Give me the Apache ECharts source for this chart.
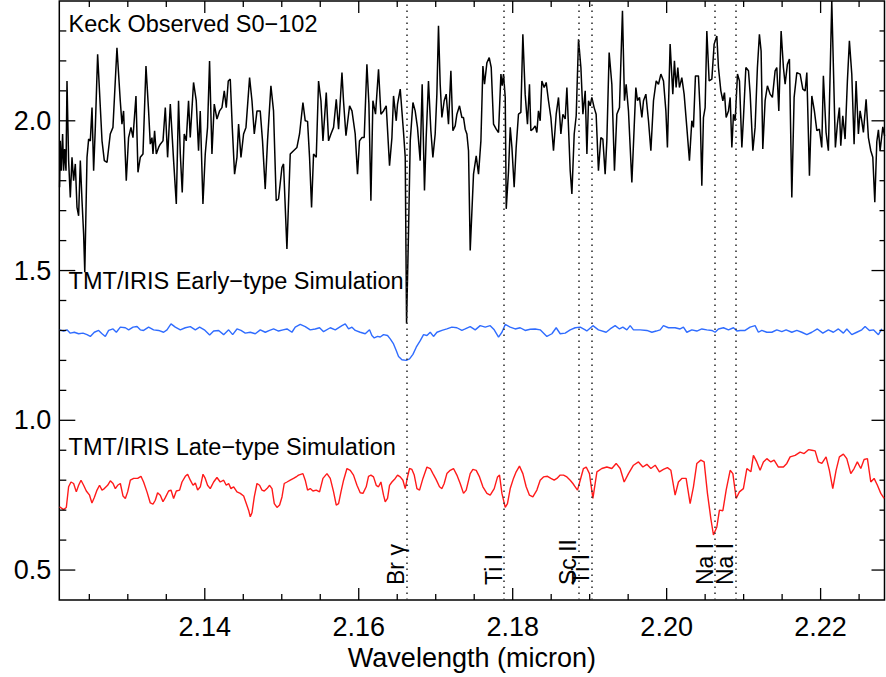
<!DOCTYPE html>
<html>
<head>
<meta charset="utf-8">
<script src="https://cdn.jsdelivr.net/npm/echarts@6/dist/echarts.min.js"></script>
<style>
  html, body { margin: 0; padding: 0; background: #fff; }
  #chart { width: 886px; height: 677px; }
</style>
</head>
<body>
<div id="chart"></div>
<script>
// Keck observed spectrum of S0-102 (wavelength in micron, offset flux)
const keckWave = [
  2.12114,2.12123,2.12136,2.12153,2.12166,2.12179,2.12197,2.12210,2.12231,2.12253,
  2.12275,2.12296,2.12318,2.12340,2.12361,2.12383,2.12405,2.12426,2.12441,2.12470,
  2.12491,2.12513,2.12535,2.12556,2.12578,2.12608,2.12665,2.12695,2.12730,2.12772,
  2.12807,2.12859,2.12902,2.12924,2.12945,2.12980,2.13010,2.13041,2.13067,2.13106,
  2.13132,2.13162,2.13197,2.13236,2.13270,2.13292,2.13314,2.13327,2.13348,2.13370,
  2.13400,2.13422,2.13457,2.13487,2.13517,2.13552,2.13595,2.13630,2.13659,2.13682,
  2.13707,2.13733,2.13759,2.13789,2.13811,2.13854,2.13889,2.13919,2.13941,2.13976,
  2.14006,2.14036,2.14062,2.14093,2.14123,2.14158,2.14192,2.14223,2.14253,2.14279,
  2.14305,2.14331,2.14357,2.14387,2.14418,2.14439,2.14470,2.14504,2.14535,2.14582,
  2.14613,2.14643,2.14678,2.14720,2.14750,2.14785,2.14815,2.14859,2.14893,2.14928,
  2.14958,2.15002,2.15023,2.15067,2.15110,2.15153,2.15197,2.15231,2.15275,2.15305,
  2.15335,2.15361,2.15387,2.15413,2.15448,2.15478,2.15509,2.15535,2.15578,2.15608,
  2.15639,2.15673,2.15708,2.15738,2.15782,2.15802,2.15834,2.15881,2.15912,2.15954,
  2.15984,2.16010,2.16041,2.16071,2.16106,2.16132,2.16158,2.16184,2.16218,2.16257,
  2.16288,2.16322,2.16357,2.16400,2.16431,2.16452,2.16487,2.16504,2.16539,2.16582,
  2.16604,2.16621,2.16647,2.16669,2.16704,2.16733,2.16763,2.16798,2.16824,2.16854,
  2.16876,2.16906,2.16937,2.16963,2.16993,2.17015,2.17036,2.17058,2.17080,2.17110,
  2.17136,2.17166,2.17197,2.17223,2.17253,2.17275,2.17309,2.17340,2.17361,2.17383,
  2.17405,2.17426,2.17448,2.17491,2.17526,2.17556,2.17587,2.17613,2.17634,2.17665,
  2.17695,2.17721,2.17751,2.17786,2.17816,2.17847,2.17864,2.17881,2.17903,2.17916,
  2.17946,2.17968,2.17990,2.18019,2.18045,2.18075,2.18106,2.18132,2.18162,2.18192,
  2.18218,2.18236,2.18262,2.18292,2.18314,2.18335,2.18357,2.18379,2.18409,2.18435,
  2.18465,2.18496,2.18530,2.18565,2.18595,2.18626,2.18652,2.18682,2.18704,2.18725,
  2.18747,2.18769,2.18799,2.18825,2.18855,2.18886,2.18912,2.18942,2.18964,2.18985,
  2.19007,2.19028,2.19058,2.19084,2.19114,2.19145,2.19171,2.19201,2.19223,2.19253,
  2.19288,2.19322,2.19353,2.19387,2.19426,2.19452,2.19474,2.19504,2.19548,2.19578,
  2.19600,2.19621,2.19647,2.19678,2.19699,2.19730,2.19764,2.19795,2.19829,2.19864,
  2.19894,2.19925,2.19959,2.19990,2.20010,2.20045,2.20080,2.20101,2.20123,2.20145,
  2.20166,2.20197,2.20227,2.20262,2.20296,2.20327,2.20348,2.20374,2.20413,2.20435,
  2.20457,2.20478,2.20500,2.20522,2.20552,2.20587,2.20617,2.20652,2.20673,2.20704,
  2.20730,2.20751,2.20773,2.20803,2.20825,2.20847,2.20868,2.20890,2.20903,2.20920,
  2.20946,2.20977,2.20998,2.21029,2.21063,2.21085,2.21120,2.21149,2.21179,2.21205,
  2.21227,2.21249,2.21279,2.21309,2.21344,2.21374,2.21409,2.21431,2.21457,2.21487,
  2.21517,2.21539,2.21569,2.21595,2.21626,2.21656,2.21691,2.21734,2.21769,2.21799,
  2.21821,2.21855,2.21886,2.21919,2.21951,2.21984,2.22015,2.22036,2.22071,2.22101,
  2.22145,2.22192,2.22218,2.22244,2.22262,2.22288,2.22318,2.22348,2.22374,2.22405,
  2.22435,2.22461,2.22491,2.22513,2.22535,2.22556,2.22591,2.22621,2.22652,2.22678,
  2.22704,2.22730,2.22751,2.22773,2.22808,2.22831
];
const keckFlux = [
  1.778,1.933,1.833,1.956,1.833,1.906,1.833,2.133,1.867,1.744,
  1.878,1.800,1.856,1.711,1.683,1.867,1.733,1.622,1.494,1.878,
  1.939,1.933,2.044,1.833,1.978,2.222,1.933,1.867,1.861,1.956,
  1.978,2.244,2.067,1.989,2.033,1.800,1.944,1.978,1.944,2.083,
  1.828,1.878,1.889,2.183,2.033,1.922,1.944,1.889,1.967,1.889,
  1.911,1.922,1.933,2.044,1.878,2.056,1.867,1.722,2.067,1.889,
  1.761,1.956,1.933,2.067,1.944,2.128,2.067,1.900,2.033,1.722,
  1.889,1.978,2.200,1.889,2.056,2.006,2.033,2.044,2.100,2.044,
  2.133,2.139,1.978,1.822,1.878,1.989,1.878,1.956,1.978,2.144,
  2.067,1.956,2.033,2.033,1.933,1.772,1.933,2.117,2.033,1.733,
  1.739,1.844,1.856,1.572,1.889,1.900,1.911,1.956,2.061,2.000,
  1.998,1.878,1.711,1.889,1.878,2.133,2.067,1.933,2.094,1.933,
  1.956,1.978,2.072,1.972,2.161,2.067,1.950,2.050,2.033,1.956,
  1.822,1.933,1.944,1.944,2.189,2.056,1.733,2.067,2.022,2.172,
  2.022,2.033,2.050,1.850,1.944,2.083,2.000,2.056,2.106,1.961,
  1.878,1.323,1.633,1.933,2.061,2.033,1.978,1.867,2.122,1.767,
  1.944,2.133,1.967,1.878,1.956,2.089,2.317,2.122,2.011,2.067,
  2.089,1.989,2.167,1.967,1.983,2.022,2.050,2.011,2.011,1.972,
  1.956,1.900,1.567,1.822,1.883,1.822,1.933,2.183,2.122,2.194,
  2.211,2.178,1.989,1.972,1.961,2.156,2.117,2.156,2.078,1.706,
  1.833,1.978,1.911,1.778,1.911,2.022,2.028,2.289,2.089,1.989,
  2.122,1.967,1.972,1.983,1.961,2.033,2.000,2.133,2.111,2.128,
  2.067,2.011,1.900,2.022,2.078,1.956,2.022,2.006,2.111,1.978,
  1.833,1.756,1.956,2.017,2.272,2.178,2.022,2.100,1.889,2.067,
  2.050,2.078,2.044,2.022,1.833,1.944,1.939,1.822,1.933,2.228,
  2.122,1.833,2.022,2.044,2.367,2.067,2.122,2.033,1.794,1.978,
  2.111,2.067,2.078,2.011,2.067,2.089,2.000,1.900,2.067,2.133,
  2.122,2.156,2.133,2.033,1.911,2.256,2.089,2.200,2.111,2.178,
  2.111,2.144,2.089,1.978,1.867,2.000,1.978,2.150,2.150,2.033,
  1.783,2.011,2.044,2.300,2.133,2.139,2.256,2.283,2.178,2.100,
  2.067,2.094,2.011,2.033,2.078,1.911,2.022,2.000,2.067,2.156,
  2.133,1.911,2.011,2.178,2.167,2.089,1.900,1.978,2.178,2.289,
  2.233,1.906,2.067,2.117,2.089,2.078,2.167,2.178,2.033,2.300,
  2.178,2.122,2.189,2.206,1.744,2.078,2.161,2.156,2.106,2.100,
  2.161,1.817,2.083,2.033,1.967,1.972,1.911,2.150,1.961,1.900,
  2.400,1.911,1.989,2.044,1.917,2.017,1.939,2.133,2.267,2.156,
  1.922,2.133,1.956,2.033,2.000,1.961,2.072,1.944,1.900,1.878,
  1.728,1.930,1.970,1.900,1.980,1.950
];

// TMT/IRIS early-type simulation
const earlyWave = [
  2.12114,2.12166,2.12210,2.12253,2.12305,2.12361,2.12418,2.12470,2.12513,2.12565,
  2.12621,2.12665,2.12708,2.12751,2.12808,2.12851,2.12903,2.12968,2.13011,2.13068,
  2.13120,2.13162,2.13205,2.13270,2.13335,2.13400,2.13465,2.13509,2.13561,2.13617,
  2.13682,2.13747,2.13812,2.13877,2.13933,2.13994,2.14063,2.14115,2.14180,2.14245,
  2.14310,2.14362,2.14418,2.14470,2.14526,2.14591,2.14656,2.14721,2.14786,2.14842,
  2.14894,2.14958,2.15016,2.15068,2.15132,2.15175,2.15240,2.15305,2.15370,2.15435,
  2.15491,2.15543,2.15630,2.15695,2.15782,2.15825,2.15868,2.15912,2.15955,2.16019,
  2.16084,2.16140,2.16171,2.16201,2.16244,2.16279,2.16322,2.16374,2.16409,2.16452,
  2.16487,2.16517,2.16561,2.16617,2.16660,2.16704,2.16747,2.16799,2.16842,2.16886,
  2.16929,2.16971,2.17016,2.17081,2.17145,2.17210,2.17275,2.17340,2.17383,2.17448,
  2.17513,2.17578,2.17643,2.17708,2.17760,2.17816,2.17860,2.17903,2.17968,2.18032,
  2.18097,2.18162,2.18227,2.18292,2.18357,2.18444,2.18509,2.18565,2.18617,2.18682,
  2.18747,2.18812,2.18877,2.18942,2.18963,2.19042,2.19114,2.19214,2.19266,2.19331,
  2.19387,2.19431,2.19483,2.19526,2.19569,2.19656,2.19743,2.19808,2.19864,2.19916,
  2.19958,2.20023,2.20110,2.20175,2.20218,2.20262,2.20327,2.20392,2.20457,2.20522,
  2.20587,2.20630,2.20673,2.20738,2.20803,2.20868,2.20912,2.20955,2.21019,2.21084,
  2.21149,2.21192,2.21236,2.21301,2.21366,2.21431,2.21496,2.21552,2.21626,2.21691,
  2.21756,2.21821,2.21886,2.21958,2.22029,2.22101,2.22166,2.22231,2.22296,2.22340,
  2.22405,2.22470,2.22535,2.22578,2.22634,2.22686,2.22751,2.22795
];
const earlyFlux = [
  1.302,1.298,1.302,1.291,1.294,1.289,1.291,1.286,1.280,1.294,
  1.300,1.289,1.280,1.300,1.305,1.294,1.311,1.309,1.302,1.311,
  1.313,1.302,1.300,1.311,1.302,1.300,1.294,1.302,1.322,1.311,
  1.302,1.309,1.313,1.302,1.311,1.302,1.285,1.298,1.300,1.286,
  1.302,1.286,1.305,1.300,1.291,1.294,1.289,1.302,1.294,1.300,
  1.305,1.298,1.302,1.305,1.294,1.311,1.320,1.313,1.302,1.305,
  1.309,1.296,1.309,1.302,1.316,1.322,1.305,1.311,1.300,1.294,
  1.289,1.302,1.283,1.275,1.280,1.278,1.286,1.283,1.272,1.255,
  1.233,1.213,1.202,1.200,1.205,1.220,1.244,1.266,1.286,1.283,
  1.294,1.280,1.294,1.300,1.305,1.311,1.309,1.300,1.305,1.313,
  1.302,1.316,1.311,1.316,1.302,1.278,1.294,1.320,1.311,1.305,
  1.309,1.300,1.304,1.305,1.302,1.280,1.289,1.309,1.289,1.291,
  1.302,1.309,1.311,1.302,1.298,1.316,1.302,1.294,1.305,1.316,
  1.305,1.311,1.302,1.316,1.302,1.302,1.300,1.294,1.298,1.302,
  1.316,1.309,1.309,1.305,1.311,1.294,1.302,1.298,1.305,1.302,
  1.300,1.294,1.305,1.309,1.302,1.309,1.298,1.300,1.300,1.311,
  1.316,1.294,1.300,1.294,1.294,1.302,1.296,1.302,1.294,1.300,
  1.294,1.286,1.294,1.305,1.291,1.302,1.294,1.305,1.291,1.305,
  1.286,1.294,1.302,1.313,1.300,1.302,1.286,1.305
];

// TMT/IRIS late-type simulation
const lateWave = [
  2.12114,2.12166,2.12201,2.12231,2.12262,2.12296,2.12331,2.12361,2.12392,2.12426,
  2.12461,2.12503,2.12534,2.12565,2.12600,2.12633,2.12665,2.12695,2.12738,2.12773,
  2.12808,2.12838,2.12868,2.12903,2.12938,2.12968,2.12998,2.13033,2.13076,2.13128,
  2.13171,2.13205,2.13249,2.13292,2.13327,2.13357,2.13387,2.13422,2.13457,2.13487,
  2.13530,2.13561,2.13595,2.13630,2.13673,2.13704,2.13747,2.13777,2.13812,2.13847,
  2.13877,2.13907,2.13942,2.13977,2.14006,2.14036,2.14071,2.14115,2.14158,2.14201,
  2.14245,2.14279,2.14310,2.14340,2.14375,2.14418,2.14461,2.14505,2.14539,2.14569,
  2.14591,2.14613,2.14643,2.14678,2.14712,2.14743,2.14773,2.14808,2.14842,2.14873,
  2.14903,2.14938,2.14972,2.15003,2.15032,2.15068,2.15110,2.15153,2.15197,2.15218,
  2.15275,2.15305,2.15335,2.15370,2.15405,2.15448,2.15491,2.15535,2.15587,2.15630,
  2.15673,2.15708,2.15738,2.15769,2.15803,2.15847,2.15890,2.15932,2.15977,2.16019,
  2.16055,2.16097,2.16127,2.16158,2.16192,2.16227,2.16257,2.16288,2.16322,2.16344,
  2.16374,2.16400,2.16431,2.16474,2.16504,2.16539,2.16574,2.16604,2.16634,2.16660,
  2.16691,2.16721,2.16756,2.16790,2.16834,2.16886,2.16929,2.16964,2.17006,2.17049,
  2.17081,2.17110,2.17145,2.17188,2.17231,2.17275,2.17318,2.17361,2.17396,2.17448,
  2.17483,2.17526,2.17569,2.17613,2.17665,2.17708,2.17760,2.17803,2.17829,2.17860,
  2.17903,2.17932,2.17968,2.18010,2.18045,2.18088,2.18132,2.18175,2.18218,2.18262,
  2.18314,2.18357,2.18400,2.18452,2.18496,2.18539,2.18574,2.18617,2.18660,2.18704,
  2.18747,2.18782,2.18812,2.18842,2.18877,2.18919,2.18955,2.18997,2.19042,2.19094,
  2.19158,2.19223,2.19288,2.19344,2.19396,2.19448,2.19504,2.19569,2.19634,2.19691,
  2.19743,2.19795,2.19851,2.19906,2.19958,2.20010,2.20055,2.20110,2.20153,2.20197,
  2.20253,2.20305,2.20348,2.20392,2.20444,2.20487,2.20530,2.20574,2.20608,2.20652,
  2.20686,2.20730,2.20773,2.20825,2.20860,2.20903,2.20945,2.20997,2.21042,2.21094,
  2.21127,2.21171,2.21214,2.21257,2.21301,2.21353,2.21396,2.21452,2.21517,2.21561,
  2.21604,2.21669,2.21734,2.21786,2.21842,2.21886,2.21929,2.21971,2.22016,2.22071,
  2.22114,2.22158,2.22201,2.22244,2.22296,2.22340,2.22392,2.22435,2.22477,2.22522,
  2.22565,2.22608,2.22652,2.22695,2.22738,2.22782,2.22825
];
const lateFlux = [
  0.711,0.702,0.709,0.778,0.794,0.789,0.761,0.783,0.800,0.783,
  0.764,0.750,0.724,0.742,0.767,0.783,0.767,0.772,0.783,0.798,
  0.789,0.772,0.783,0.789,0.747,0.739,0.761,0.800,0.806,0.806,
  0.813,0.794,0.761,0.724,0.720,0.733,0.758,0.750,0.728,0.742,
  0.764,0.767,0.739,0.764,0.767,0.794,0.813,0.820,0.800,0.783,
  0.791,0.767,0.778,0.820,0.806,0.783,0.772,0.794,0.809,0.794,
  0.800,0.783,0.789,0.772,0.778,0.761,0.756,0.747,0.722,0.700,
  0.678,0.691,0.744,0.789,0.783,0.767,0.764,0.772,0.783,0.772,
  0.722,0.709,0.717,0.744,0.789,0.794,0.800,0.806,0.813,0.817,
  0.822,0.800,0.767,0.772,0.764,0.767,0.761,0.806,0.822,0.806,
  0.761,0.717,0.722,0.761,0.800,0.839,0.833,0.817,0.783,0.758,
  0.756,0.778,0.813,0.817,0.811,0.783,0.778,0.794,0.750,0.728,
  0.739,0.783,0.794,0.806,0.817,0.811,0.800,0.772,0.811,0.839,
  0.836,0.817,0.772,0.767,0.806,0.844,0.839,0.822,0.802,0.778,
  0.772,0.789,0.822,0.833,0.839,0.817,0.789,0.756,0.767,0.822,
  0.836,0.833,0.811,0.778,0.756,0.750,0.772,0.811,0.817,0.756,
  0.709,0.722,0.772,0.806,0.828,0.847,0.822,0.778,0.750,0.744,
  0.767,0.800,0.811,0.813,0.806,0.800,0.806,0.817,0.817,0.811,
  0.800,0.789,0.778,0.767,0.800,0.839,0.844,0.822,0.739,0.828,
  0.839,0.844,0.839,0.856,0.839,0.794,0.822,0.850,0.861,0.844,
  0.853,0.839,0.850,0.828,0.836,0.842,0.833,0.750,0.794,0.806,
  0.806,0.722,0.778,0.856,0.867,0.861,0.756,0.672,0.617,0.644,
  0.700,0.698,0.767,0.833,0.822,0.739,0.761,0.772,0.839,0.828,
  0.883,0.861,0.833,0.861,0.872,0.861,0.867,0.844,0.844,0.856,
  0.878,0.883,0.894,0.889,0.902,0.900,0.898,0.861,0.856,0.878,
  0.833,0.772,0.833,0.878,0.887,0.872,0.822,0.839,0.861,0.839,
  0.869,0.872,0.794,0.806,0.783,0.756,0.739
];

// Spectral line identifications
const lineWave  = [2.1662, 2.1789, 2.1886, 2.1903, 2.2063, 2.2090];
const lineNames = ['Br γ', 'Ti I', 'Sc II', 'Ti I', 'Na I', 'Na I'];

// Axis ranges and ticks
const xRange = [2.1211, 2.2283];
const yRange = [0.4, 2.4];
const xMajorTicks = [2.14, 2.16, 2.18, 2.20, 2.22];
const xMinorTicks = [2.125, 2.130, 2.135, 2.145, 2.150, 2.155, 2.165, 2.170, 2.175,
                     2.185, 2.190, 2.195, 2.205, 2.210, 2.215, 2.225];
const yMajorTicks = [0.5, 1.0, 1.5, 2.0];
const yMinorTicks = [0.6, 0.7, 0.8, 0.9, 1.1, 1.2, 1.3, 1.4, 1.6, 1.7, 1.8, 1.9, 2.1, 2.2, 2.3];

// Panel captions, anchored at their left edge in data coordinates
const captionText = ['Keck Observed S0−102', 'TMT/IRIS Early−type Simulation', 'TMT/IRIS Late−type Simulation'];
const captionWave = [2.12231, 2.12231, 2.12231];
const captionFlux = [2.3223, 1.4667, 0.9092];

const FONT = '"Liberation Sans", Arial, Helvetica, sans-serif';
const zip = (xs, ys) => xs.map((x, i) => [x, ys[i]]);

// Tick marks on all four sides of the frame: [value, axis (0 = x, 1 = y), major flag]
const tickItems = [].concat(
  xMajorTicks.map(v => [v, 0, 1]),
  xMinorTicks.map(v => [v, 0, 0]),
  yMajorTicks.map(v => [v, 1, 1]),
  yMinorTicks.map(v => [v, 1, 0])
);
const tickStyle = { stroke: '#000', lineWidth: 1.3 };

function renderTick(params, api) {
  const v = api.value(0), isY = api.value(1) === 1, major = api.value(2) === 1;
  const cs = params.coordSys;
  const left = cs.x, right = cs.x + cs.width, top = cs.y, bottom = cs.y + cs.height;
  let children;
  if (!isY) {
    const px = api.coord([v, yRange[0]])[0];
    const len = major ? 12 : 6;
    children = [
      { type: 'line', shape: { x1: px, y1: bottom, x2: px, y2: bottom - len }, style: tickStyle },
      { type: 'line', shape: { x1: px, y1: top, x2: px, y2: top + len }, style: tickStyle }
    ];
  } else {
    const py = api.coord([xRange[0], v])[1];
    children = [
      { type: 'line', shape: { x1: left, y1: py, x2: left + (major ? 16 : 7), y2: py }, style: tickStyle },
      { type: 'line', shape: { x1: right, y1: py, x2: right - (major ? 13 : 5), y2: py }, style: tickStyle }
    ];
  }
  return { type: 'group', children };
}

const chart = echarts.init(document.getElementById('chart'), null, { renderer: 'svg' });

chart.setOption({
  animation: false,
  backgroundColor: '#fff',
  grid: { left: 59.3, right: 1.5, top: 1, bottom: 77, show: true,
          borderColor: '#000', borderWidth: 1.5, backgroundColor: 'transparent' },
  xAxis: {
    type: 'value', min: xRange[0], max: xRange[1],
    axisLine: { show: false, onZero: false },
    axisTick: { show: false },
    axisLabel: { customValues: xMajorTicks, margin: 13, formatter: v => v.toFixed(2),
                 color: '#000', fontSize: 27, fontFamily: FONT },
    splitLine: { show: false },
    name: 'Wavelength (micron)', nameLocation: 'middle', nameGap: 44,
    nameTextStyle: { color: '#000', fontSize: 27, fontFamily: FONT }
  },
  yAxis: {
    type: 'value', min: yRange[0], max: yRange[1],
    axisLine: { show: false, onZero: false },
    axisTick: { show: false },
    axisLabel: { customValues: yMajorTicks, margin: 8, formatter: v => v.toFixed(1),
                 color: '#000', fontSize: 27, fontFamily: FONT },
    splitLine: { show: false }
  },
  series: [
    {
      name: 'Keck', type: 'line', data: zip(keckWave, keckFlux),
      showSymbol: false, symbol: 'none', clip: true,
      lineStyle: { color: '#000', width: 1.5 }, emphasis: { disabled: true }, z: 3
    },
    {
      name: 'Early', type: 'line', data: zip(earlyWave, earlyFlux),
      showSymbol: false, symbol: 'none',
      lineStyle: { color: '#2f6cff', width: 1.4 }, emphasis: { disabled: true }, z: 3,
      markLine: {
        silent: true, symbol: 'none', animation: false, precision: 5,
        lineStyle: { color: '#333', type: [1.6, 4.4], width: 1.6 },
        label: {
          show: true, position: 'insideStartTop', distance: [15, -1],
          formatter: p => p.name, color: '#000', fontSize: 23, fontFamily: FONT
        },
        emphasis: { disabled: true },
        data: lineWave.map((w, i) => ({ xAxis: w, name: lineNames[i] }))
      }
    },
    {
      name: 'Late', type: 'line', data: zip(lateWave, lateFlux),
      showSymbol: false, symbol: 'none',
      lineStyle: { color: '#ff1a1a', width: 1.4 }, emphasis: { disabled: true }, z: 3
    },
    {
      name: 'Ticks', type: 'custom', data: tickItems, renderItem: renderTick,
      silent: true, clip: false, z: 4, encode: { x: 0 }
    },
    {
      name: 'Captions', type: 'scatter', symbolSize: 0, silent: true, z: 5,
      itemStyle: { opacity: 1 },
      data: captionText.map((t, i) => ({ name: t, value: [captionWave[i], captionFlux[i]] })),
      label: {
        show: true, position: 'right', distance: 0, formatter: '{b}',
        color: '#000', fontSize: 23.5, fontFamily: FONT
      },
      emphasis: { disabled: true }
    }
  ]
});
</script>
</body>
</html>
